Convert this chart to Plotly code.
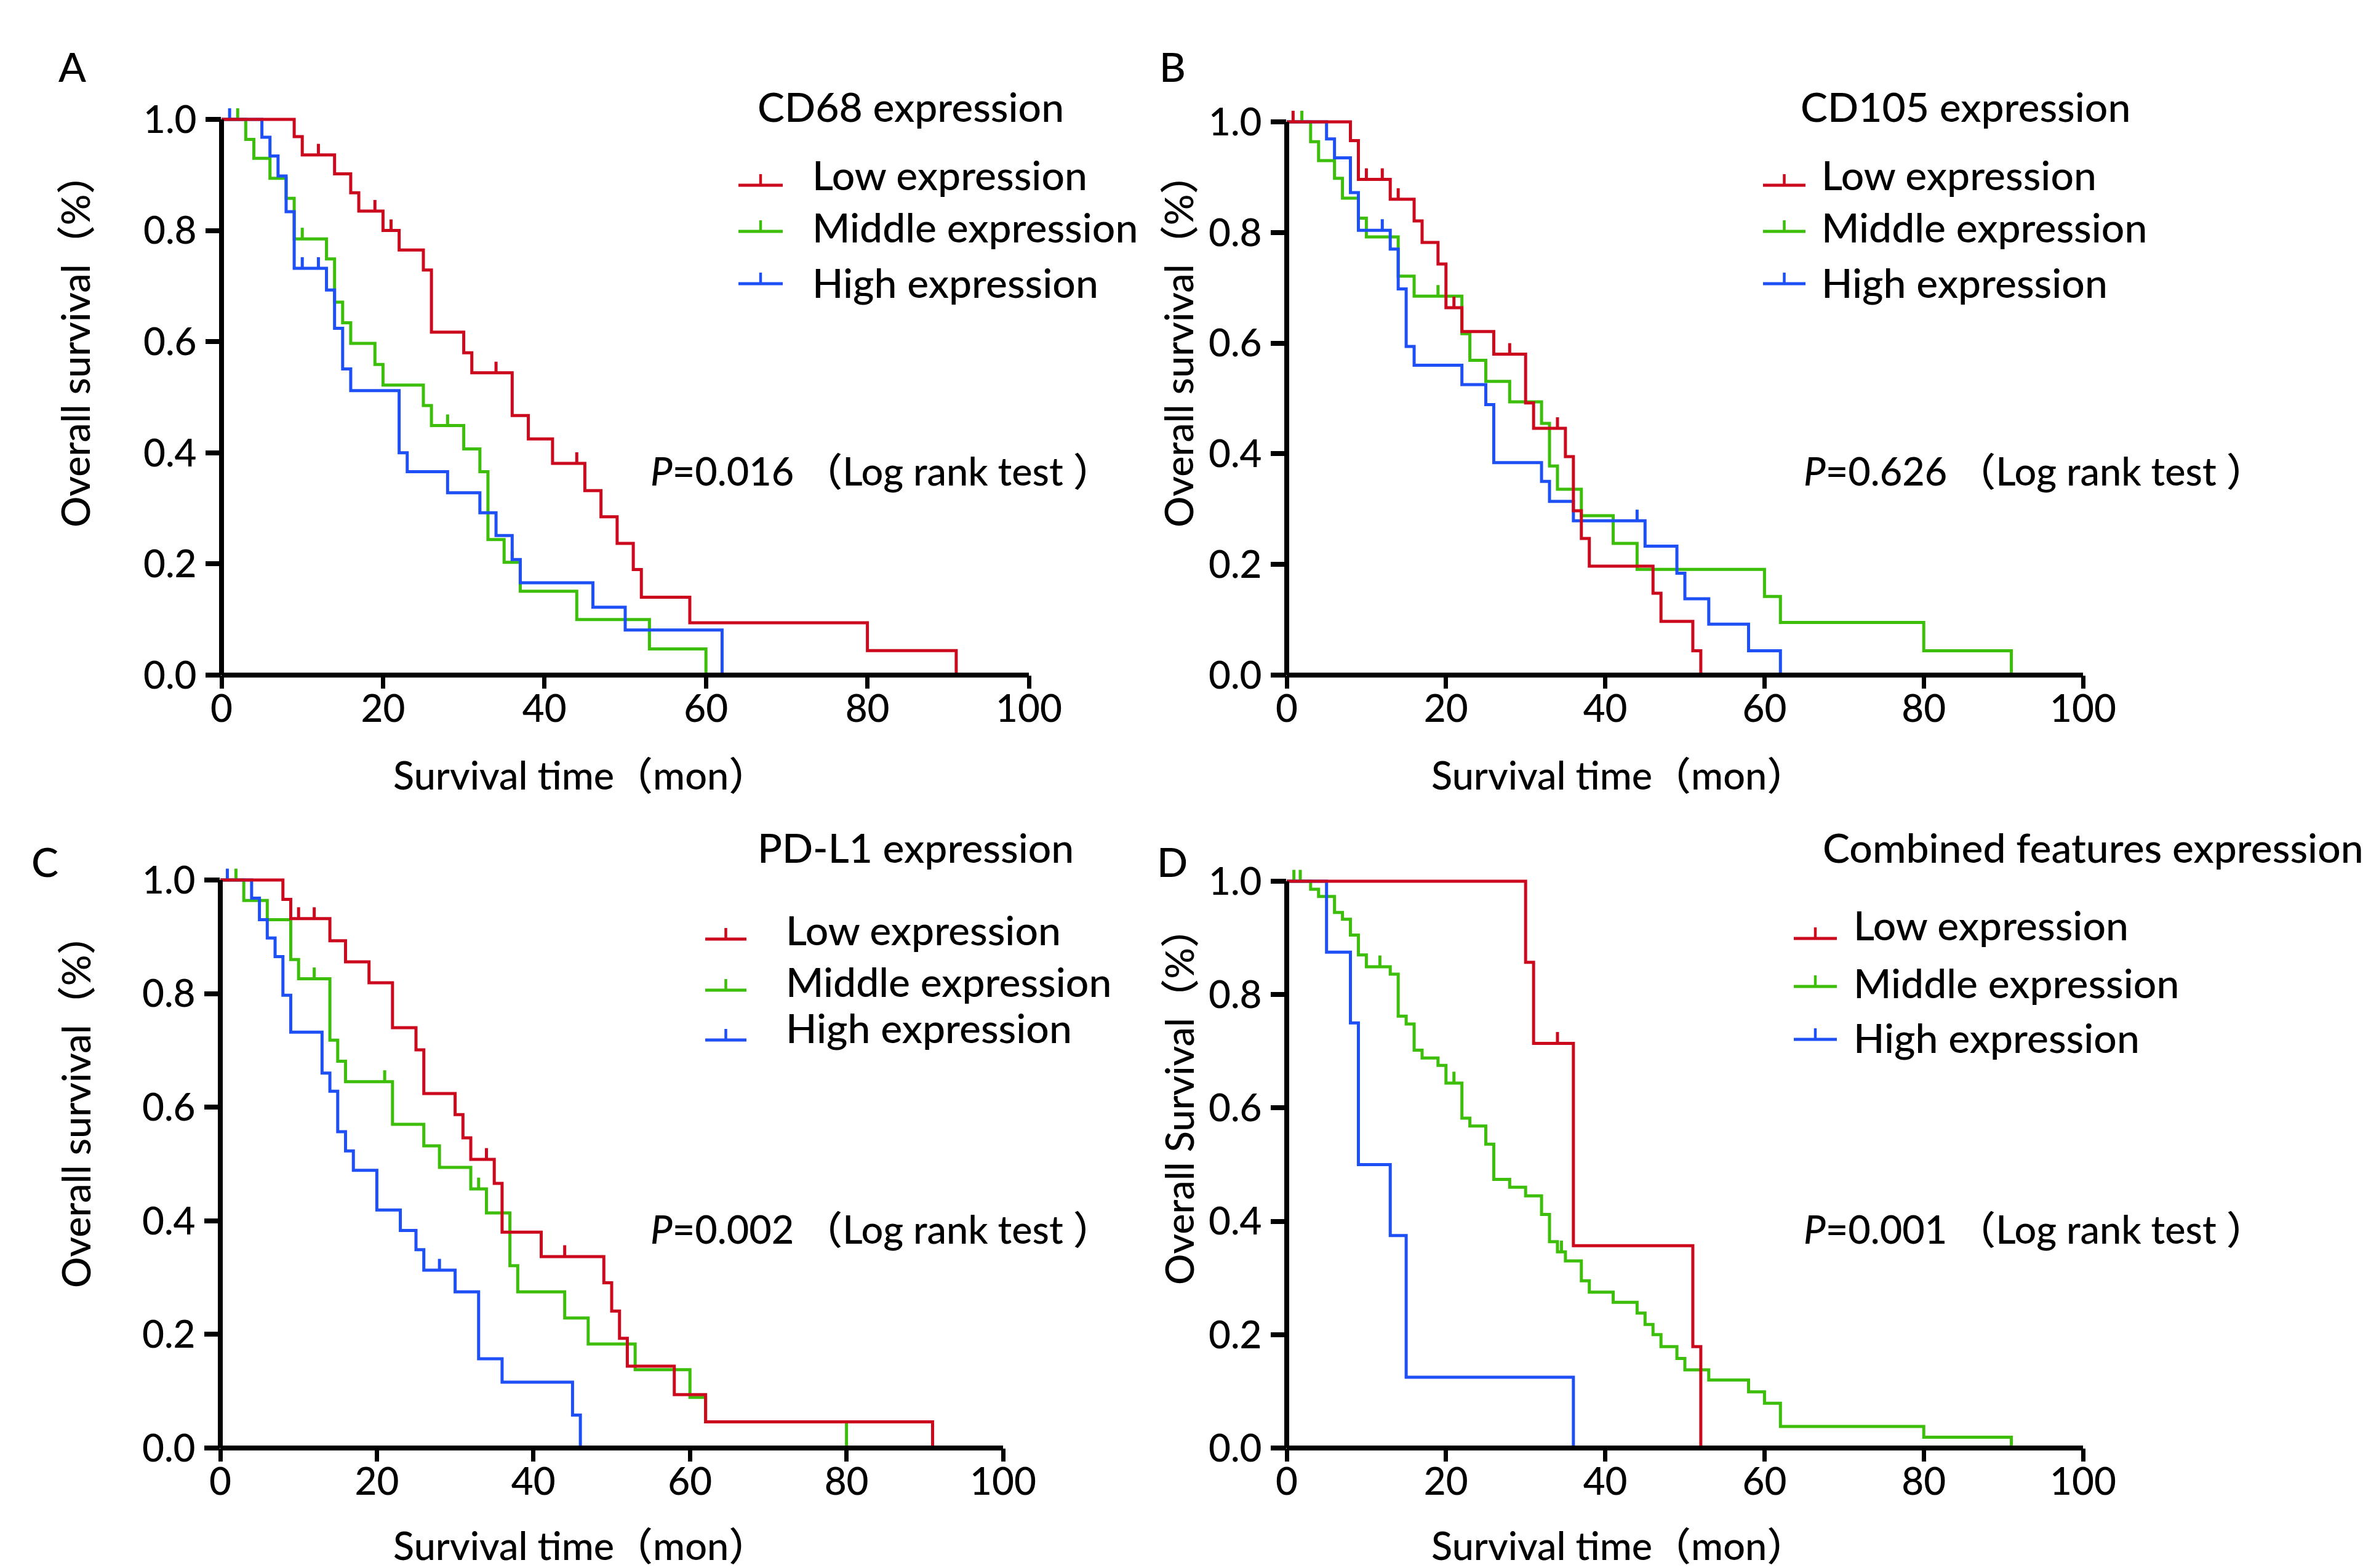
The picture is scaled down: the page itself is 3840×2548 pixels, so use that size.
import plotly.graph_objects as go

W, H = 3840, 2548
FONT = "Lato, Noto Sans CJK SC, sans-serif"
WEIGHT = 500
RED, GREEN, BLUE = "#CC0A1E", "#3CBE0A", "#1E50F5"

# ---------------- data (times in months, survival after each event) ----------------
# Panel A : CD68
a_low_t = [9, 10, 14, 16, 17, 20, 22, 25, 26, 30, 31, 36, 38, 41, 45, 47, 49, 51, 52, 58, 80, 91]
a_low_s = [0.969, 0.936, 0.902, 0.868, 0.835, 0.800, 0.765, 0.729, 0.617, 0.580, 0.544, 0.467,
           0.425, 0.381, 0.332, 0.285, 0.237, 0.190, 0.140, 0.094, 0.044, 0.0]
a_low_c = [12, 19, 21, 34, 44]
a_mid_t = [3, 4, 6, 8, 9, 13, 14, 15, 16, 19, 20, 25, 26, 30, 32, 33, 35, 37, 44, 53, 60]
a_mid_s = [0.964, 0.930, 0.894, 0.858, 0.785, 0.749, 0.671, 0.634, 0.597, 0.559, 0.522, 0.485,
           0.449, 0.407, 0.366, 0.244, 0.203, 0.151, 0.100, 0.047, 0.0]
a_mid_c = [2, 10, 28, 36]
a_high_t = [5, 6, 7, 8, 9, 13, 14, 15, 16, 22, 23, 28, 32, 34, 36, 37, 46, 50, 62]
a_high_s = [0.968, 0.934, 0.898, 0.834, 0.732, 0.693, 0.624, 0.551, 0.512, 0.400, 0.366, 0.328,
            0.292, 0.251, 0.208, 0.166, 0.122, 0.081, 0.0]
a_high_c = [1, 10, 12]

# Panel B : CD105
b_low_t = [8, 9, 13, 16, 17, 19, 20, 22, 26, 30, 31, 35, 36, 37, 38, 46, 47, 51, 52]
b_low_s = [0.966, 0.896, 0.860, 0.821, 0.782, 0.743, 0.664, 0.621, 0.580, 0.492, 0.446, 0.395,
           0.297, 0.247, 0.197, 0.148, 0.097, 0.044, 0.0]
b_low_c = [0.8, 10, 12, 14, 21, 28, 34]
b_mid_t = [3, 4, 6, 7, 9, 10, 14, 16, 22, 23, 25, 28, 32, 33, 34, 37, 41, 44, 60, 62, 80, 91]
b_mid_s = [0.964, 0.930, 0.898, 0.862, 0.826, 0.792, 0.721, 0.685, 0.617, 0.569, 0.531, 0.494,
           0.455, 0.378, 0.336, 0.288, 0.238, 0.191, 0.142, 0.095, 0.044, 0.0]
b_mid_c = [1.9, 19]
b_high_t = [5, 6, 8, 9, 13, 14, 15, 16, 22, 25, 26, 32, 33, 36, 45, 49, 50, 53, 58, 62]
b_high_s = [0.969, 0.935, 0.872, 0.804, 0.770, 0.698, 0.594, 0.560, 0.525, 0.489, 0.384, 0.350,
            0.314, 0.279, 0.233, 0.184, 0.138, 0.092, 0.044, 0.0]
b_high_c = [12, 44]

# Panel C : PD-L1
c_low_t = [8, 9, 14, 16, 19, 22, 25, 26, 30, 31, 32, 35, 36, 41, 49, 50, 51, 52, 58, 62, 91]
c_low_s = [0.966, 0.932, 0.893, 0.856, 0.819, 0.740, 0.701, 0.624, 0.587, 0.546, 0.508, 0.466,
           0.380, 0.337, 0.291, 0.241, 0.193, 0.144, 0.094, 0.046, 0.0]
c_low_c = [10, 12, 34, 44]
c_mid_t = [3, 6, 9, 10, 14, 15, 16, 22, 26, 28, 32, 34, 37, 38, 44, 47, 53, 60, 62, 80]
c_mid_s = [0.964, 0.930, 0.860, 0.826, 0.718, 0.681, 0.645, 0.570, 0.532, 0.494, 0.456, 0.414,
           0.321, 0.275, 0.229, 0.183, 0.138, 0.089, 0.046, 0.0]
c_mid_c = [2, 12, 21, 33]
c_high_t = [4, 5, 6, 7, 8, 9, 13, 14, 15, 16, 17, 20, 23, 25, 26, 30, 33, 36, 45, 46]
c_high_s = [0.968, 0.930, 0.898, 0.865, 0.797, 0.732, 0.660, 0.628, 0.557, 0.523, 0.489, 0.419,
            0.383, 0.349, 0.313, 0.275, 0.157, 0.116, 0.058, 0.0]
c_high_c = [0.9, 28]

# Panel D : combined features
d_low_t = [30, 31, 36, 51, 52]
d_low_s = [0.857, 0.714, 0.357, 0.179, 0.0]
d_low_c = [34]
d_mid_t = [3, 4, 6, 7, 8, 9, 10, 13, 14, 15, 16, 17, 19, 20, 22, 23, 25, 26, 28, 30, 32, 33, 34,
           35, 37, 38, 41, 44, 45, 46, 47, 49, 50, 53, 58, 60, 62, 80, 91]
d_mid_s = [0.986, 0.973, 0.945, 0.933, 0.905, 0.870, 0.849, 0.836, 0.762, 0.748, 0.702, 0.688,
           0.675, 0.644, 0.582, 0.568, 0.536, 0.474, 0.460, 0.445, 0.412, 0.364, 0.346, 0.330,
           0.295, 0.275, 0.257, 0.238, 0.218, 0.200, 0.179, 0.158, 0.138, 0.120, 0.099, 0.079,
           0.038, 0.019, 0.0]
d_mid_c = [0.9, 1.7, 11.7, 21, 34.5]
d_high_t = [5, 8, 9, 13, 15, 36]
d_high_s = [0.875, 0.75, 0.5, 0.375, 0.125, 0.0]
d_high_c = []

x_ticks = [0, 20, 40, 60, 80, 100]
y_ticks = [0.0, 0.2, 0.4, 0.6, 0.8, 1.0]
y_ticktext = ["0.0", "0.2", "0.4", "0.6", "0.8", "1.0"]

group_names = ["Low expression", "Middle expression", "High expression"]
panel_titles = ["CD68 expression", "CD105 expression", "PD-L1 expression", "Combined features expression"]
p_texts = ["0.016", "0.626", "0.002", "0.001"]
panel_letters = ["A", "B", "C", "D"]
y_titles = ["Overall survival（%）", "Overall survival（%）", "Overall survival（%）", "Overall Survival（%）"]
x_title = "Survival time（mon）"

panels = [
    [(a_low_t, a_low_s, a_low_c), (a_mid_t, a_mid_s, a_mid_c), (a_high_t, a_high_s, a_high_c)],
    [(b_low_t, b_low_s, b_low_c), (b_mid_t, b_mid_s, b_mid_c), (b_high_t, b_high_s, b_high_c)],
    [(c_low_t, c_low_s, c_low_c), (c_mid_t, c_mid_s, c_mid_c), (c_high_t, c_high_s, c_high_c)],
    [(d_low_t, d_low_s, d_low_c), (d_mid_t, d_mid_s, d_mid_c), (d_high_t, d_high_s, d_high_c)],
]
colors = [RED, GREEN, BLUE]

# ---------------- layout geometry (pixels) ----------------
YTOP = 1.04  # y range top, so the 1.0 line and censor ticks are not clipped
geo = [  # x0, x100, y0px, y1px
    (360, 1672, 1097, 194),
    (2091, 3385, 1097, 198),
    (358, 1630, 2353, 1430),
    (2091, 3385, 2353, 1432),
]
legend_geo = [  # line x0, x1, text x, [line y], [text y]
    (1200, 1272, 1318, [301, 376, 461], [283, 368, 458]),
    (2865, 2934, 2958, [301, 376, 461], [283, 368, 458]),
    (1146, 1213, 1275, [1526, 1609, 1690], [1510, 1594, 1669]),
    (2915, 2985, 3010, [1525, 1603, 1689], [1502, 1596, 1686]),
]
title_pos = [(1229, 172), (2924, 172), (1229, 1376), (2960, 1376)]
p_pos = [(1055, 764), (2929, 764), (1055, 1996), (2929, 1996)]
letter_pos = [(117, 108), (1905, 108), (73, 1399), (1905, 1399)]
ytitle_pos = [(122, 555), (1915, 555), (122, 1791), (1915, 1783)]
xtitle_pos = [(943, 1258), (2630, 1258), (943, 2510), (2630, 2510)]

TICK_LEN = 0.02


def px_x(p):
    return p / W


def px_y(p):
    return 1 - p / H


def s_at(t, times, surv):
    s = 1.0
    for ti, si in zip(times, surv):
        if ti <= t:
            s = si
    return s


def fnt(size):
    return dict(family=FONT, size=size, color="black", weight=WEIGHT)


fig = go.Figure()
layout = dict(width=W, height=H, margin=dict(l=0, r=0, t=0, b=0, pad=0, autoexpand=False),
              autosize=False, plot_bgcolor="white", paper_bgcolor="white", showlegend=False)
shapes, annotations = [], []

for i, (groups, (x0p, x100p, y0p, y1p)) in enumerate(zip(panels, geo)):
    n = "" if i == 0 else str(i + 1)
    xa, ya = "x" + n, "y" + n
    unit = y0p - y1p
    ytop_px = y0p - YTOP * unit
    layout["xaxis" + n] = dict(
        domain=[px_x(x0p), px_x(x100p)], range=[0, 100], anchor=ya, automargin=False,
        tickvals=x_ticks, ticks="outside", ticklen=21, tickwidth=7, tickcolor="black",
        showline=False, showgrid=False, zeroline=False,
        tickfont=fnt(62), ticklabelstandoff=-20)
    layout["yaxis" + n] = dict(
        domain=[px_y(y0p), px_y(ytop_px)], range=[0, YTOP], anchor=xa, automargin=False,
        tickvals=y_ticks, ticktext=y_ticktext, ticks="outside", ticklen=25, tickwidth=8,
        tickcolor="black", showline=False, showgrid=False, zeroline=False,
        tickfont=fnt(62), ticklabelstandoff=2)

    # curves: draw middle, high, then low on top
    for gi in [1, 2, 0]:
        times, surv, cens = groups[gi]
        fig.add_trace(go.Scatter(x=[0] + times, y=[1.0] + surv, mode="lines",
                                 line=dict(color=colors[gi], width=5, shape="hv"),
                                 xaxis=xa, yaxis=ya, hoverinfo="skip"))
        if cens:
            cx, cy = [], []
            for c in cens:
                s = s_at(c, times, surv)
                cx += [c, c, None]
                cy += [s, s + TICK_LEN, None]
            fig.add_trace(go.Scatter(x=cx, y=cy, mode="lines",
                                     line=dict(color=colors[gi], width=5),
                                     xaxis=xa, yaxis=ya, hoverinfo="skip"))

    # axis lines (not clipped)
    shapes.append(dict(type="line", xref=xa + " domain", yref=ya + " domain",
                       x0=0, x1=0, y0=0, y1=1 / YTOP, line=dict(color="black", width=8)))
    shapes.append(dict(type="line", xref=xa + " domain", yref=ya + " domain",
                       x0=0, x1=1, y0=0, y1=0, line=dict(color="black", width=8)))

    # legend
    lx0, lx1, tx, lys, tys = legend_geo[i]
    for gi in range(3):
        ly = lys[gi]
        shapes.append(dict(type="line", xref="paper", yref="paper",
                           x0=px_x(lx0), x1=px_x(lx1), y0=px_y(ly), y1=px_y(ly),
                           line=dict(color=colors[gi], width=5)))
        mx = (lx0 + lx1) / 2
        shapes.append(dict(type="line", xref="paper", yref="paper",
                           x0=px_x(mx), x1=px_x(mx), y0=px_y(ly), y1=px_y(ly - 18),
                           line=dict(color=colors[gi], width=4.5)))
        annotations.append(dict(text=group_names[gi], xref="paper", yref="paper",
                                x=px_x(tx), y=px_y(tys[gi]), xanchor="left", yanchor="middle",
                                showarrow=False, font=fnt(66)))

    tx_, ty_ = title_pos[i]
    annotations.append(dict(text=panel_titles[i], xref="paper", yref="paper",
                            x=px_x(tx_), y=px_y(ty_), xanchor="left", yanchor="middle",
                            showarrow=False, font=fnt(66)))
    px_, py_ = p_pos[i]
    annotations.append(dict(text="<i>P</i>=" + p_texts[i] + " （Log rank test ）",
                            xref="paper", yref="paper", x=px_x(px_), y=px_y(py_),
                            xanchor="left", yanchor="middle", showarrow=False,
                            font=fnt(63)))
    lx_, ly_ = letter_pos[i]
    annotations.append(dict(text=panel_letters[i], xref="paper", yref="paper",
                            x=px_x(lx_), y=px_y(ly_), xanchor="center", yanchor="middle",
                            showarrow=False, font=fnt(66)))
    yx_, yy_ = ytitle_pos[i]
    annotations.append(dict(text=y_titles[i], xref="paper", yref="paper",
                            x=px_x(yx_), y=px_y(yy_), xanchor="center", yanchor="middle",
                            textangle=-90, showarrow=False, font=fnt(63)))
    xx_, xy_ = xtitle_pos[i]
    annotations.append(dict(text=x_title, xref="paper", yref="paper",
                            x=px_x(xx_), y=px_y(xy_), xanchor="center", yanchor="middle",
                            showarrow=False, font=fnt(63)))

layout["shapes"] = shapes
layout["annotations"] = annotations
fig.update_layout(**layout)
fig.write_html("out.html", config={"displayModeBar": False},
               post_script="document.body.style.margin='0';document.body.style.overflow='hidden';")
